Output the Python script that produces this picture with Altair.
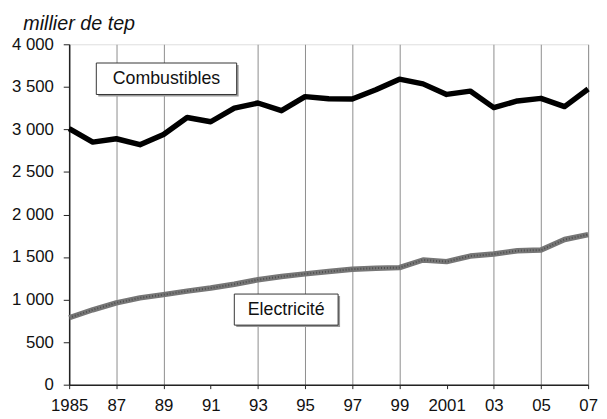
import altair as alt
import pandas as pd

years = list(range(1985, 2008))
combustibles = [3010, 2850, 2890, 2820, 2940, 3140, 3090, 3250, 3310, 3220, 3385,
                3360, 3357, 3465, 3590, 3535, 3411, 3450, 3256, 3334, 3365, 3268, 3474]
electricite = [787, 880, 962, 1020, 1058, 1100, 1136, 1180, 1233, 1271, 1302,
               1330, 1357, 1369, 1376, 1465, 1446, 1512, 1535, 1574, 1582, 1706, 1764]

# annotation boxes (label, x-range in years, y-range in units)
ann_labels = ["Combustibles", "Electricité"]
ann_x1 = [1986.15, 1992.0]
ann_x2 = [1992.1, 1996.4]
ann_y1 = [3410, 700]
ann_y2 = [3780, 1065]

df = pd.DataFrame({
    "year": years * 2,
    "value": combustibles + electricite,
    "serie": ["Combustibles"] * len(years) + ["Electricité"] * len(years),
})
ann = pd.DataFrame({
    "label": ann_labels,
    "x1": ann_x1, "x2": ann_x2, "y1": ann_y1, "y2": ann_y2,
})
ann["xc"] = (ann["x1"] + ann["x2"]) / 2
ann["yc"] = (ann["y1"] + ann["y2"]) / 2

FONT = "Liberation Sans"

x_scale = alt.Scale(domain=[1985, 2007], nice=False, zero=False)
y_scale = alt.Scale(domain=[0, 4000], nice=False)

x_axis = alt.Axis(
    values=list(range(1985, 2008, 2)),
    labelExpr="datum.value == 1985 || datum.value == 2001 ? format(datum.value, 'd') : slice(format(datum.value, 'd'), 2)",
    title=None,
    grid=True,
    gridColor="#8c8c8c",
    gridWidth=1,
    gridOpacity={"condition": {"test": "datum.value == 1991 || datum.value == 2001", "value": 0}, "value": 1},
    domainColor="#222",
    domainWidth=1.5,
    tickColor="#222",
    tickSize=4,
    labelFont=FONT,
    labelFontSize=17,
    labelColor="#111",
    labelPadding=9,
    labelFlush=False,
)
y_axis = alt.Axis(
    values=list(range(0, 4001, 500)),
    labelExpr="replace(format(datum.value, ','), ',', ' ')",
    title="millier de tep",
    titleAngle=0,
    titleAlign="left",
    titleBaseline="alphabetic",
    titleX=-47,
    titleY=-15,
    titleFont=FONT,
    titleFontSize=20,
    titleFontStyle="italic",
    titleFontWeight="normal",
    titleColor="#111",
    grid=False,
    domainColor="#222",
    domainWidth=1.5,
    tickColor="#222",
    tickSize=6,
    labelFont=FONT,
    labelFontSize=17,
    labelColor="#111",
    labelPadding=10,
)

base = alt.Chart(df)

lines = base.mark_line(strokeJoin="round", strokeCap="butt", strokeWidth=5.5).encode(
    x=alt.X("year:Q", scale=x_scale, axis=x_axis),
    y=alt.Y("value:Q", scale=y_scale, axis=y_axis),
    color=alt.Color("serie:N",
                    scale=alt.Scale(domain=["Combustibles", "Electricité"],
                                    range=["#000000", "#767676"]),
                    legend=None),
    detail="serie:N",
)

texture = alt.Chart(df[df["serie"] == "Electricité"]).mark_line(
    strokeWidth=2, color="#333333", strokeDash=[1, 2], opacity=0.6
).encode(x=alt.X("year:Q", scale=x_scale), y=alt.Y("value:Q", scale=y_scale))

shadow = alt.Chart(ann).mark_rect(color="#9a9a9a", xOffset=2, yOffset=2, x2Offset=2, y2Offset=2).encode(
    x=alt.X("x1:Q", scale=x_scale), x2="x2:Q",
    y=alt.Y("y1:Q", scale=y_scale), y2="y2:Q",
)
box = alt.Chart(ann).mark_rect(fill="white", stroke="#333", strokeWidth=1).encode(
    x=alt.X("x1:Q", scale=x_scale), x2="x2:Q",
    y=alt.Y("y1:Q", scale=y_scale), y2="y2:Q",
)
txt = alt.Chart(ann).mark_text(font=FONT, fontSize=18, color="#111",
                               align="center", baseline="middle").encode(
    x=alt.X("xc:Q", scale=x_scale),
    y=alt.Y("yc:Q", scale=y_scale),
    text="label:N",
)

chart = alt.layer(lines, texture, shadow, box, txt).properties(
    width=526, height=345,
    autosize=alt.AutoSizeParams(type="none"),
    padding={"left": 62, "top": 34, "right": 11, "bottom": 32},
).configure_view(
    stroke="#555", strokeWidth=1.5, strokeDash=[1, 1]
).configure(background="white")

chart.save("out.html", embed_options={"renderer": "svg", "actions": False})
